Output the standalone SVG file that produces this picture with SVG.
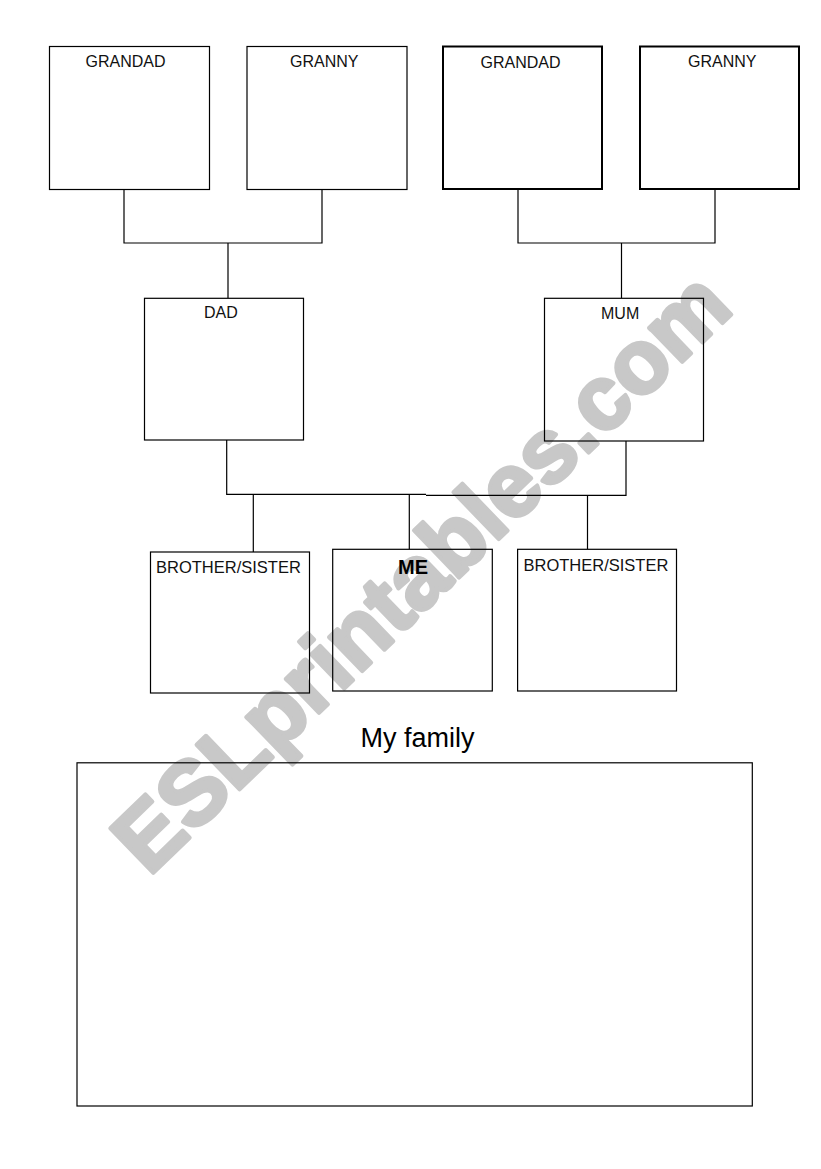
<svg xmlns="http://www.w3.org/2000/svg" width="821" height="1169" viewBox="0 0 821 1169">
<style>
.box{fill:none;stroke:#000;stroke-width:1.2}
.thick{fill:none;stroke:#000;stroke-width:2}
.lbl{font-family:"Liberation Sans",Arial,sans-serif;font-size:16px;fill:#111}
.conn{fill:none;stroke:#000;stroke-width:1.2}
.wm{font-family:"Liberation Sans",Arial,sans-serif;font-weight:bold;font-size:90px;fill:#c8c8c8;stroke:#c8c8c8;stroke-width:4;stroke-linejoin:round}
</style>
<rect x="0" y="0" width="821" height="1169" fill="#fff"/>
<g id="watermark">
<text class="wm" transform="translate(149,877) rotate(-44)">ESLprintables.com</text>
</g>
<g id="connectors">
<path class="conn" d="M124 189 V243 H322 V189 M228 243 V298"/>
<path class="conn" d="M518 189 V243 H715 V189 M621.5 243 V298"/>
<path class="conn" d="M226.7 440 V494.3 H426 M426 495.3 H626 V441"/>
<path class="conn" d="M253.3 494.3 V552 M409.3 494.3 V549 M587.5 495.3 V549"/>
</g>
<g id="grandad1"><rect class="box" x="49.5" y="46.5" width="160" height="143"/><text class="lbl" x="85.5" y="66.7">GRANDAD</text></g>
<g id="granny1"><rect class="box" x="247" y="46.5" width="160" height="143"/><text class="lbl" x="290" y="66.7">GRANNY</text></g>
<g id="grandad2"><rect class="thick" x="443" y="46.5" width="159" height="142.5"/><text class="lbl" x="480.5" y="68.3">GRANDAD</text></g>
<g id="granny2"><rect class="thick" x="640" y="46.5" width="159" height="142.5"/><text class="lbl" x="688" y="66.7">GRANNY</text></g>
<g id="dad"><rect class="box" x="144.5" y="298.3" width="159" height="141.7"/><text class="lbl" x="204" y="317.7">DAD</text></g>
<g id="mum"><rect class="box" x="544.5" y="298.3" width="159" height="142.7"/><text class="lbl" x="601" y="319">MUM</text></g>
<g id="sibling1"><rect class="box" x="150.5" y="552" width="159" height="141"/><text class="lbl" x="156" y="573" style="font-size:16.5px">BROTHER/SISTER</text></g>
<g id="me"><rect class="box" x="332.7" y="549.3" width="159.6" height="141.7"/><text class="lbl" x="398" y="574.3" style="font-size:20px;font-weight:bold;fill:#000">ME</text></g>
<g id="sibling2"><rect class="box" x="517.6" y="549.3" width="158.9" height="141.7"/><text class="lbl" x="523.5" y="570.5" style="font-size:16.5px">BROTHER/SISTER</text></g>
<g id="title"><text x="360.5" y="746.5" style="font-family:'Liberation Sans',Arial,sans-serif;font-size:27px;fill:#000">My family</text></g>
<g id="family-box"><rect class="box" x="77" y="762.8" width="675.3" height="343.2"/></g>
</svg>
